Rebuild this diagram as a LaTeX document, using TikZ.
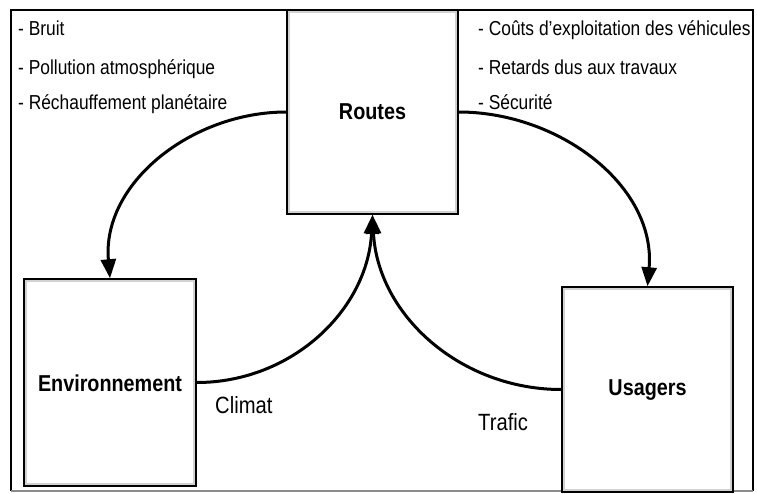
\documentclass[tikz,border=0pt]{standalone}
\usepackage{fontspec}
\setmainfont{Liberation Sans}[FakeStretch=0.86]
\usetikzlibrary{arrows.meta}
\begin{document}
\begin{tikzpicture}[x=1pt,y=-1pt,
  box/.style={draw=black, line width=3.5pt, fill=white, inner sep=0pt,
    font=\fontsize{23}{27}\selectfont\bfseries},
  glow/.style={draw=black!18, line width=2pt},
  conn/.style={line width=3pt, -{Triangle[length=19pt,width=15pt]}},
  item/.style={anchor=base west, inner sep=0pt, font=\fontsize{20.2}{24}\selectfont},
  lbl/.style={anchor=base west, inner sep=0pt, font=\fontsize{23.5}{27}\selectfont}]
\useasboundingbox (0,0) rectangle (757,493);
% outer frame
\draw[line width=2pt] (11,491) -- (11,10) -- (753,10) -- (753,491);
\draw[line width=1.5pt, black!45] (11,491) -- (753,491);
% boxes
\node[box, minimum width=169pt, minimum height=202pt] (routes) at (372.5,112) {};
\node[box, minimum width=170pt, minimum height=205pt] (env) at (110,382.5) {};
\node[box, minimum width=169pt, minimum height=203pt] (usa) at (647.5,389.5) {};
\foreach \b in {routes,env,usa}
  \draw[glow] ([shift={(3.2,3.2)}]\b.north west) rectangle ([shift={(-3.2,-3.2)}]\b.south east);
\node[font=\fontsize{23}{27}\selectfont\bfseries] at (routes.center) {Routes};
\node[font=\fontsize{23}{27}\selectfont\bfseries] at ([yshift=-1pt]env.center) {Environnement};
\node[font=\fontsize{23}{27}\selectfont\bfseries] at ([yshift=-1pt]usa.center) {Usagers};
% connectors
\draw[conn] (routes.west) to[out=180,in=95] (env.north);
\draw[conn] (routes.east) to[out=0,in=85] (usa.north);
\draw[conn] (env.east) to[out=0,in=-93] (routes.south);
\draw[conn] (usa.west) to[out=180,in=-87] (routes.south);
% lists
\node[item] (l1) at (18,35) {- Bruit};
\node[item] (l2) at (18,74) {- Pollution atmosphérique};
\node[item] (l3) at (18,109) {- Réchauffement planétaire};
\node[item] (r1) at (478,35) {- Coûts d’exploitation des véhicules};
\node[item] (r2) at (478,74) {- Retards dus aux travaux};
\node[item] (r3) at (478,109) {- Sécurité};
% labels
\node[lbl] (climat) at (215,413) {Climat};
\node[lbl] (trafic) at (478,430) {Trafic};
\end{tikzpicture}
\end{document}
